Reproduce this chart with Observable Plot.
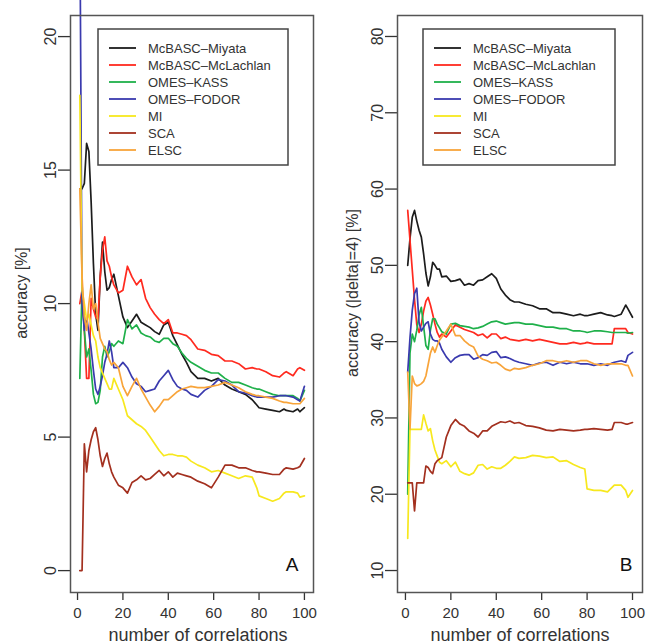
<!DOCTYPE html>
<html>
<head>
<meta charset="utf-8">
<script src="https://cdn.jsdelivr.net/npm/d3@7"></script>
<script src="https://cdn.jsdelivr.net/npm/@observablehq/plot@0.6"></script>
<style>
  html, body { margin: 0; padding: 0; background: #fff; }
  #wrap { display: flex; width: 649px; height: 644px; overflow: hidden; }
</style>
</head>
<body>
<div id="wrap"></div>
<script>
// ---------- data ----------
const methods = ["McBASC\u2013Miyata", "McBASC\u2013McLachlan", "OMES\u2013KASS", "OMES\u2013FODOR", "MI", "SCA", "ELSC"];
const colors  = ["#1c1c1c", "#ff2a1f", "#1fb04a", "#3a3aae", "#f7e81e", "#a3301f", "#f8a43a"];

const xs = [1,2,3,4,5,6,7,8,9,10,11,12,13,14,15,16,18,20,22,24,26,28,30,32,34,36,38,40,42,44,46,48,50,53,56,59,62,65,68,71,74,77,79,80,83,86,89,91,92,95,97,98,100];

const xTicks  = [0, 20, 40, 60, 80, 100];
const yTicksA = [0, 5, 10, 15, 20];
const yTicksB = [10, 20, 30, 40, 50, 60, 70, 80];

// Panel A: accuracy [%]
const A_miyata    = [14.3,14.3,14.5,16.0,15.7,13.8,11.5,9.6,9.0,11.0,12.3,11.2,10.5,10.6,10.9,11.1, 10.3,9.5,9.1,9.35,9.6,9.3,9.2,9.1,8.95,8.85,9.2,9.3,8.8,8.45,8.1,7.8,7.45, 7.2,7.2,7.1,7.2,6.95,6.8,6.7,6.6,6.4, 6.2,6.1,6.05,6.0,5.95,6.05,6.0,5.95,6.05,5.95,6.1];
const A_mclachlan = [10.0,10.5,9.0,7.2,7.2,10.2,9.8,9.5,9.4,11.0,12.0,12.5,11.6,11.4,11.0,10.7, 10.4,10.5,11.4,11.0,10.7,10.9,10.2,9.85,9.6,9.4,9.25,9.4,8.9,8.9,8.85,8.8,8.65, 8.3,8.25,8.1,8.05,7.85,7.85,7.75,7.55,7.6, 7.55,7.55,7.45,7.3,7.25,7.4,7.45,7.3,7.55,7.6,7.5];
const A_kass      = [7.2,10.7,9.0,8.0,8.3,7.5,6.6,6.25,6.3,6.75,8.0,8.4,8.0,8.2,8.5,8.4, 8.6,8.5,9.4,9.05,9.2,8.9,8.8,8.75,8.6,8.55,8.7,8.7,8.5,8.4,8.15,7.95,7.8, 7.65,7.5,7.4,7.4,7.2,7.05,7.05,6.95,6.85, 6.8,6.8,6.7,6.6,6.55,6.55,6.55,6.55,6.45,6.35,6.75];
const A_fodor     = [25,10.0,9.0,9.5,8.9,8.3,7.5,6.8,6.6,6.9,7.3,7.8,8.1,8.6,8.2,7.6, 7.6,7.8,7.6,7.25,7.0,6.9,6.7,6.75,6.8,7.1,7.3,7.5,7.15,6.9,6.8,6.75,6.6, 6.5,6.75,6.9,7.15,7.1,6.95,6.7,6.65,6.55, 6.5,6.5,6.5,6.5,6.55,6.55,6.55,6.5,6.4,6.35,6.9];
const A_mi        = [17.8,10.5,10.0,9.4,9.6,9.2,8.8,8.6,8.0,7.6,7.4,7.2,7.0,6.8,6.8,7.2, 6.8,6.4,5.8,5.65,5.5,5.4,5.25,5.0,4.75,4.5,4.3,4.35,4.35,4.3,4.3,4.25,4.1, 3.95,3.85,3.7,3.75,3.65,3.55,3.45,3.55,3.5, 3.1,2.8,2.7,2.6,2.7,2.9,2.95,2.95,2.9,2.75,2.8];
const A_sca       = [0,0,4.75,3.7,4.5,4.9,5.2,5.35,4.9,4.3,3.9,4.2,4.4,4.0,3.7,3.5, 3.2,3.1,2.9,3.3,3.4,3.55,3.4,3.45,3.6,3.75,3.55,3.7,3.5,3.65,3.6,3.55,3.5, 3.35,3.25,3.1,3.5,3.95,3.95,3.85,3.85,3.75, 3.7,3.7,3.65,3.6,3.6,3.8,3.85,3.8,3.85,3.9,4.2];
const A_elsc      = [14.3,11.0,9.5,9.0,10.0,10.7,9.8,10.0,9.3,8.7,8.5,8.3,8.2,7.9,7.7,7.8, 7.6,6.9,6.55,6.9,7.2,6.8,6.5,6.2,5.95,6.15,6.4,6.4,6.55,6.7,6.8,6.85,6.9, 6.85,6.85,6.9,6.95,7.05,6.95,6.85,6.7,6.6, 6.55,6.55,6.5,6.45,6.35,6.3,6.3,6.25,6.25,6.25,6.45];

// Panel B: accuracy (|delta|=4) [%]
const B_miyata    = [50.0,53.5,56.3,57.2,55.8,54.6,53.7,51.5,49.0,47.3,48.5,50.4,50.0,49.5,49.5,48.5, 48.6,47.9,48.0,48.2,47.4,47.6,47.4,48.0,48.1,48.5,48.9,48.3,46.9,46.1,45.5,45.2,45.2, 44.9,44.7,44.3,44.3,43.8,43.8,43.6,43.4,43.6, 43.4,43.4,43.6,43.8,43.5,43.4,43.3,43.6,44.8,44.3,43.2];
const B_mclachlan = [57.2,53.3,49.4,45.5,42.2,41.2,42.3,44.0,45.3,45.8,44.8,43.6,42.3,41.2,40.6,41.0, 40.6,41.4,42.2,41.9,41.6,41.4,41.2,40.8,41.0,40.5,41.0,41.0,40.4,40.6,40.3,40.2,40.1, 40.3,40.1,40.3,40.1,39.9,39.7,39.7,39.9,39.7, 39.8,39.9,39.7,39.7,39.7,39.7,41.7,41.7,41.7,41.2,41.0];
const B_kass      = [20.0,38.5,41.0,40.0,41.5,43.5,44.5,42.0,39.5,39.0,41.5,43.0,43.0,42.3,41.8,41.3, 41.0,42.3,42.4,42.1,42.0,41.9,41.7,41.8,42.0,42.3,42.6,42.7,42.5,42.3,42.4,42.5,42.5, 42.3,42.3,42.1,41.9,41.9,41.7,41.7,41.4,41.4, 41.3,41.2,41.4,41.4,41.3,41.2,41.2,41.2,41.2,41.1,41.2];
const B_fodor     = [36.0,40.5,44.1,46.3,47.0,42.5,41.4,41.9,42.4,42.6,41.0,40.3,40.1,40.1,39.8,39.0, 38.0,37.3,37.9,38.2,38.3,38.3,37.7,37.9,38.3,38.2,38.6,38.7,37.9,38.0,37.8,37.5,37.3, 37.1,36.9,37.2,37.3,36.9,37.3,37.1,37.3,37.1, 37.1,37.1,36.9,37.1,36.9,37.2,37.3,37.5,37.3,38.2,38.6];
const B_mi        = [14.2,28.5,28.5,28.5,28.5,28.5,28.5,30.4,29.3,28.3,28.6,27.0,25.8,25.0,24.2,24.0, 24.4,23.6,24.2,23.0,22.7,22.5,22.8,23.8,23.9,23.3,23.6,23.4,23.4,23.8,24.3,24.9,24.7, 24.8,25.1,25.0,24.8,24.9,24.3,24.4,23.9,23.5, 23.3,20.7,20.5,20.5,20.3,20.9,21.2,21.2,20.5,19.6,20.5];
const B_sca       = [21.5,21.5,21.5,17.8,21.5,21.5,21.5,21.5,23.7,23.5,23.0,22.7,24.0,24.4,24.6,24.8, 27.5,29.0,29.8,29.2,28.9,28.3,28.0,27.5,28.3,28.3,28.9,29.2,29.5,29.4,29.6,29.3,29.4, 29.0,28.9,28.7,28.4,28.3,28.5,28.4,28.3,28.4, 28.5,28.5,28.6,28.5,28.4,28.5,29.4,29.4,29.2,29.2,29.4];
const B_elsc      = [36.0,28.5,35.5,34.5,34.2,34.3,34.5,34.8,35.5,37.0,38.5,39.3,38.6,39.5,40.2,40.6, 41.4,42.3,40.8,40.8,40.1,39.6,39.3,38.1,37.7,37.5,37.2,37.3,36.9,36.4,36.2,36.5,36.4, 36.6,36.9,37.1,37.5,37.5,37.3,37.5,37.3,37.5, 37.5,37.5,37.1,36.9,37.1,37.1,37.1,37.1,36.9,36.9,35.5];

const xLabel  = "number of correlations";
const yLabelA = "accuracy [%]";
const yLabelB = "accuracy (|delta|=4) [%]";

// ---------- drawing ----------
const FONT = "'Liberation Sans', Arial, Helvetica, sans-serif";

function toRows(series) {
  const rows = [];
  series.forEach((vals, i) => vals.forEach((v, j) => rows.push({method: methods[i], x: xs[j], y: v})));
  return rows;
}

function legendMark(offsetX, boxW) {
  return (index, scales, values, dims) => {
    const g = d3.create("svg:g").attr("font-family", FONT).attr("text-anchor", "start");
    const left = dims.marginLeft + offsetX, top = dims.marginTop + 14;
    g.append("rect")
      .attr("x", left).attr("y", top).attr("width", boxW).attr("height", 136)
      .attr("fill", "white").attr("stroke", "#444").attr("stroke-width", 1.5);
    methods.forEach((m, i) => {
      const y = top + 19 + i * 17;
      g.append("line")
        .attr("x1", left + 11).attr("x2", left + 38).attr("y1", y).attr("y2", y)
        .attr("stroke", scales.color ? scales.color(m) : colors[i]).attr("stroke-width", 1.8);
      g.append("text")
        .attr("x", left + 50).attr("y", y).attr("dy", "0.35em")
        .attr("text-anchor", "start")
        .attr("font-size", 13).attr("fill", "#333").text(m);
    });
    return g.node();
  };
}

function panel(o) {
  return Plot.plot({
    width: o.width,
    height: 644,
    marginLeft: o.marginLeft,
    marginRight: o.marginRight,
    marginTop: 15,
    marginBottom: 52,
    style: {fontFamily: FONT, fontSize: "15px", color: "#333", background: "white"},
    x: {domain: o.xDomain},
    y: {domain: o.yDomain},
    color: {domain: methods, range: colors},
    marks: [
      Plot.axisX({ticks: xTicks, tickSize: 8, tickPadding: 7, label: null, fontSize: 15, strokeWidth: 1.3}),
      Plot.axisY({ticks: o.yTicks, tickSize: 12, tickPadding: 3, tickRotate: -90, label: null, fontSize: 16, strokeWidth: 1.3}),
      Plot.text([o.yLabel], {text: d => d, frameAnchor: "left", dx: o.yTitleDx, dy: -11, rotate: -90,
        textAnchor: "middle", lineAnchor: "middle", fontSize: 16, fill: "#333"}),
      Plot.text([xLabel], {text: d => d, frameAnchor: "bottom", dx: o.xTitleDx, dy: 48,
        textAnchor: "middle", lineAnchor: "bottom", fontSize: 18, fill: "#333"}),
      Plot.line(toRows(o.series), {x: "x", y: "y", z: "method", stroke: "method", strokeWidth: 1.7, strokeLinejoin: "round"}),
      Plot.text([o.letter], {text: d => d, frameAnchor: "bottom-right", dx: o.letterDx, dy: -22,
        textAnchor: "end", lineAnchor: "bottom", fontSize: 19, fill: "#111"}),
      Plot.frame({stroke: "#555", strokeWidth: 1.5}),
      legendMark(o.legendX, o.legendW)
    ]
  });
}

const wrap = document.getElementById("wrap");
wrap.append(panel({
  width: 324, marginLeft: 70, marginRight: 11,
  xDomain: [-3.1, 104], yDomain: [-0.82, 20.79], yTicks: yTicksA,
  yLabel: yLabelA, yTitleDx: -49, xTitleDx: 6,
  letter: "A", letterDx: -15,
  legendX: 28, legendW: 190,
  series: [A_miyata, A_mclachlan, A_kass, A_fodor, A_mi, A_sca, A_elsc]
}));
wrap.append(panel({
  width: 325, marginLeft: 73, marginRight: 7,
  xDomain: [-3.5, 104.4], yDomain: [7.12, 82.75], yTicks: yTicksB,
  yLabel: yLabelB, yTitleDx: -45, xTitleDx: 0,
  letter: "B", letterDx: -10,
  legendX: 26, legendW: 192,
  series: [B_miyata, B_mclachlan, B_kass, B_fodor, B_mi, B_sca, B_elsc]
}));
</script>
</body>
</html>
